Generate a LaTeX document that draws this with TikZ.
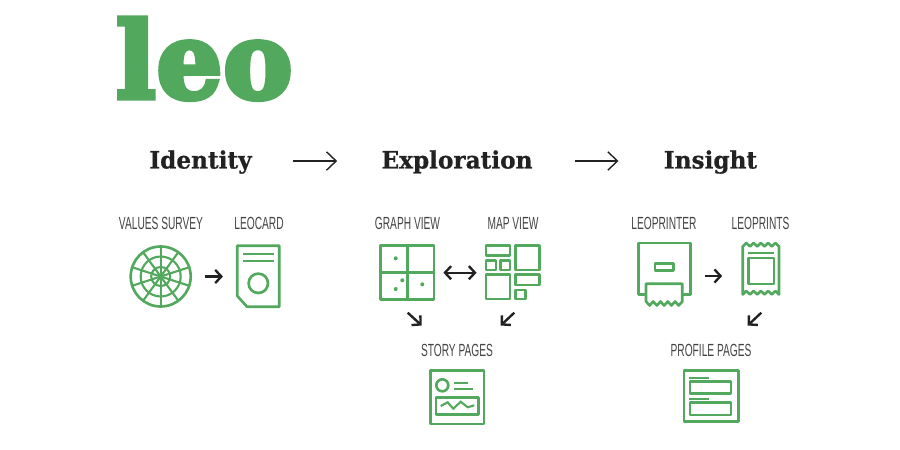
\documentclass[tikz,border=0pt]{standalone}
\usepackage{fontspec}
\usetikzlibrary{arrows.meta}
\newfontfamily\headfont[FakeStretch=0.97,FakeBold=0.6]{DejaVu Serif Bold}
\newfontfamily\logofont[FakeStretch=0.98,FakeBold=5,LetterSpace=1]{DejaVu Serif Bold}
\newfontfamily\labelfont[FakeStretch=0.58]{Liberation Sans}
\definecolor{leogreen}{HTML}{52A85C}
\definecolor{leoink}{HTML}{222222}
\tikzset{
    icon/.style={leogreen, line width=1.5pt, line join=round},
    iconthin/.style={leogreen, line width=1.2pt},
    iconbox/.style={inner sep=0pt, minimum width=#1},
    heading/.style={font=\headfont\fontsize{13.6pt}{13.6pt}\selectfont, text=leoink, inner sep=0pt, text height=10.5pt, text depth=2pt},
    caption/.style={font=\labelfont\fontsize{10pt}{10pt}\selectfont, text=leoink!85, inner sep=0pt},
    bigarrow/.style={-{Straight Barb[length=5.5pt,width=10.5pt]}, leoink, line width=0.8pt},
    smallarrow/.style={-{Straight Barb[length=3.5pt,width=7.5pt]}, leoink, line width=1.35pt},
    bothways/.style={{Straight Barb[length=3.5pt,width=7.5pt]}-{Straight Barb[length=3.5pt,width=7.5pt]}, leoink, line width=1.35pt}
}

\begin{document}
\begin{tikzpicture}[x=0.02cm, y=-0.02cm]
    \useasboundingbox (0,0) rectangle (900,450);

    % Logo
    \node[inner sep=0pt, anchor=base west, text=leogreen, font=\logofont\fontsize{60pt}{60pt}\selectfont] (logo) at (116,98) {leo};

    % Headings
    \node[heading] (identity) at (200.5,161) {Identity};
    \node[heading] (exploration) at (457,161) {Exploration};
    \node[heading] (insight) at (710.5,161) {Insight};
    \draw[bigarrow, shorten <=0.82cm, shorten >=0.88cm] (identity) -- (exploration);
    \draw[bigarrow, shorten <=0.84cm, shorten >=0.9cm] (exploration) -- (insight);

    % Captions
    \node[caption] (lsurvey) at (161,223) {VALUES SURVEY};
    \node[caption] (lcard) at (259,223) {LEOCARD};
    \node[caption] (lgraph) at (407.5,223) {GRAPH VIEW};
    \node[caption] (lmap) at (513,223) {MAP VIEW};
    \node[caption] (lstory) at (457,350) {STORY PAGES};
    \node[caption] (lprinter) at (664,223) {LEOPRINTER};
    \node[caption] (lprints) at (760.5,223) {LEOPRINTS};
    \node[caption] (lprofile) at (711,350) {PROFILE PAGES};

    % Anchors of the icons
    \node[iconbox=1.22cm] (survey) at (160.7,276.5) {};
    \node[iconbox=0.84cm] (card) at (258.3,276.5) {};
    \node[iconbox=1.06cm] (graph) at (407.5,272.7) {};
    \node[iconbox=1.07cm] (map) at (512.7,272.7) {};
    \node[iconbox=1.05cm] (printer) at (664,276) {};
    \node[iconbox=0.73cm] (prints) at (760.8,276) {};

    % Values survey
    \draw[icon] (survey.center) circle (30);
    \draw[iconthin] (survey.center) circle (20);
    \draw[iconthin] (survey.center) circle (9.5);
    \foreach \a in {18,54,...,342} {
        \draw[iconthin] (survey.center) -- ++(\a:30);
    }
    \fill[leogreen] (survey.center) circle (2.5);

    % Leocard
    \draw[icon] (237.3,245.7) -- (279.3,245.7) -- (279.3,306.7) -- (247,306.7) -- (237.3,296) -- cycle;
    \draw[iconthin] (243,254.3) -- (274,254.3);
    \draw[iconthin] (243,261) -- (274,261);
    \draw[icon] (258.3,283.3) circle (9.7);

    % Graph view
    \draw[icon] (380.7,245.7) rectangle (434,299.3);
    \draw[icon] (407.3,245.7) -- (407.3,299.3);
    \draw[icon] (380.7,272.7) -- (434,272.7);
    \foreach \px/\py in {395.7/258.3, 402.3/280.3, 395.7/289, 422.3/284.3} {
        \fill[leogreen] (\px,\py) circle (2);
    }

    % Map view
    \foreach \xa/\ya/\xb/\yb in {486/245.7/510/255.7, 515.3/245.7/539.3/270, 486/260.3/496/270, 500.7/260.3/510/270, 486/274.3/510/299, 515.3/274.3/539.3/285, 515.3/290/525.3/299} {
        \draw[icon] (\xa,\ya) rectangle (\xb,\yb);
    }

    % Story pages
    \draw[icon] (430.7,370.7) rectangle (484,424);
    \draw[icon] (442.3,385.3) circle (6);
    \draw[iconthin] (454,383.3) -- (467.7,383.3);
    \draw[iconthin] (454,389) -- (472.7,389);
    \draw[icon] (436,397.7) rectangle (478.3,414.3);
    \draw[iconthin] (440.7,406) -- (447.7,402.3) -- (453.3,408.7) -- (460.7,401.7) -- (467.7,407.3) -- (474.3,405.3);

    % Leoprinter
    \draw[icon] (646,294.5) -- (638.3,294.5) -- (638.3,243) -- (690.7,243) -- (690.7,294.5) -- (682.3,294.5);
    \draw[icon] (655,263.3) rectangle (673.3,270.7);
    \draw[icon] (646,301.5) -- (646,283.7) -- (682.3,283.7) -- (682.3,301.5)
        -- (678.67,305.5) -- (675.04,301.5) -- (671.41,305.5) -- (667.78,301.5) -- (664.15,305.5) -- (660.52,301.5) -- (656.89,305.5) -- (653.26,301.5) -- (649.63,305.5) -- cycle;

    % Leoprints
    \draw[icon] (742.7,246.5) -- (746.33,243) -- (749.96,246.5) -- (753.59,243) -- (757.22,246.5) -- (760.85,243) -- (764.48,246.5) -- (768.11,243) -- (771.74,246.5) -- (775.37,243) -- (779,246.5)
        -- (779,294.5) -- (775.37,291) -- (771.74,294.5) -- (768.11,291) -- (764.48,294.5) -- (760.85,291) -- (757.22,294.5) -- (753.59,291) -- (749.96,294.5) -- (746.33,291) -- (742.7,294.5) -- cycle;
    \draw[iconthin] (748.3,252.7) -- (774,252.7);
    \draw[icon] (748.3,258) rectangle (774,284);

    % Profile pages
    \draw[icon] (684,370.7) rectangle (738.3,421.7);
    \draw[iconthin] (689.3,378) -- (709,378);
    \draw[iconthin] (689.3,399) -- (709,399);
    \draw[icon] (690,381.7) rectangle (731,393.3);
    \draw[icon] (690,402.7) rectangle (731,415);

    % Arrows between icons
    \draw[smallarrow, shorten <=0.26cm, shorten >=0.28cm] (survey) -- (card);
    \draw[bothways, shorten <=0.18cm, shorten >=0.18cm] (graph) -- (map);
    \draw[smallarrow, shorten <=0.28cm, shorten >=0.4cm] (printer) -- (prints);

    \coordinate (gstart) at (407.7,312.7);
    \coordinate (gend) at (421.7,325.5);
    \coordinate (mstart) at (514.3,312.7);
    \coordinate (mend) at (500.7,325.5);
    \coordinate (pstart) at (761.3,312.7);
    \coordinate (pend) at (747.7,325.5);
    \draw[smallarrow] (gstart) -- (gend);
    \draw[smallarrow] (mstart) -- (mend);
    \draw[smallarrow] (pstart) -- (pend);
\end{tikzpicture}
\end{document}
